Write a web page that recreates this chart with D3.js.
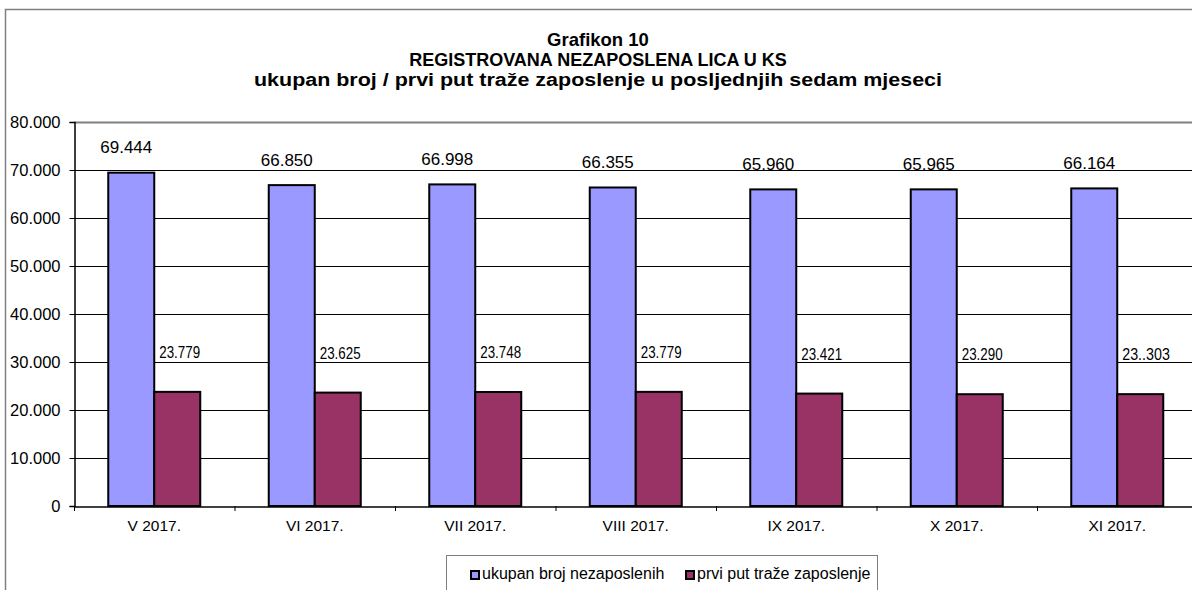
<!DOCTYPE html>
<html>
<head>
<meta charset="utf-8">
<script src="https://cdn.jsdelivr.net/npm/d3@7"></script>
<style>
  body { margin: 0; background: #fff; }
  svg { display: block; font-family: Arial, "Liberation Sans", sans-serif; }
</style>
</head>
<body>
<div id="chart"></div>
<script>
// data
const months = ["V 2017.", "VI 2017.", "VII 2017.", "VIII 2017.", "IX 2017.", "X 2017.", "XI 2017."];
const ukupno = [69444, 66850, 66998, 66355, 65960, 65965, 66164];
const prviPut = [23779, 23625, 23748, 23779, 23421, 23290, 23303];
const ukupnoLabels = ["69.444", "66.850", "66.998", "66.355", "65.960", "65.965", "66.164"];
const prviPutLabels = ["23.779", "23.625", "23.748", "23.779", "23.421", "23.290", "23..303"];
const yTicks = [0, 10000, 20000, 30000, 40000, 50000, 60000, 70000, 80000];
const seriesNames = ["ukupan broj nezaposlenih", "prvi put traže zaposlenje"];
const colors = ["#9999FF", "#993366"];
const titleLines = [
  "Grafikon 10",
  "REGISTROVANA NEZAPOSLENA LICA U KS",
  "ukupan broj / prvi put traže zaposlenje u posljednjih sedam mjeseci"
];

const W = 1192, H = 590;
const plot = { left: 74, top: 122, bottom: 506 };
const bandW = 160.5;
const barW = 46;

const svg = d3.select("#chart").append("svg")
  .attr("width", W)
  .attr("height", H);

// outer chart border (runs off the right/bottom edge)
svg.append("rect")
  .attr("x", 5.5).attr("y", 9.5)
  .attr("width", W + 20).attr("height", H + 20)
  .attr("fill", "#fff")
  .attr("stroke", "#808080")
  .attr("stroke-width", 1.5);

// title
svg.append("g").selectAll("text")
  .data(titleLines)
  .join("text")
  .attr("x", 598)
  .attr("y", (d, i) => 46 + i * 20)
  .attr("text-anchor", "middle")
  .attr("textLength", (d, i) => i === 2 ? 688 : null)
  .attr("lengthAdjust", "spacingAndGlyphs")
  .style("font-weight", "bold")
  .style("font-size", (d, i) => i === 0 ? "18.5px" : "18px")
  .text(d => d);

// scales
const x = d3.scaleBand()
  .domain(months)
  .range([plot.left, plot.left + bandW * months.length])
  .padding(0);
const y = d3.scaleLinear()
  .domain([0, 80000])
  .range([plot.bottom, plot.top]);

const fmtTick = v => v === 0 ? "0" : (v / 1000) + ".000";

// grid
svg.append("g")
  .selectAll("line")
  .data(yTicks.filter(d => d > 0))
  .join("line")
  .attr("x1", plot.left).attr("x2", W)
  .attr("y1", d => Math.round(y(d)) + 0.5)
  .attr("y2", d => Math.round(y(d)) + 0.5)
  .attr("stroke", d => d === 80000 ? "#808080" : "#000")
  .attr("stroke-width", d => d === 80000 ? 2 : 1);

// bars
const offs = (bandW - 2 * barW) / 2;
const groups = svg.append("g").selectAll("g")
  .data(months)
  .join("g")
  .attr("transform", d => `translate(${x(d)},0)`);

groups.append("rect")
  .attr("x", offs)
  .attr("y", (d, i) => y(ukupno[i]))
  .attr("width", barW)
  .attr("height", (d, i) => y(0) - y(ukupno[i]))
  .attr("fill", colors[0])
  .attr("stroke", "#000")
  .attr("stroke-width", 2);

groups.append("rect")
  .attr("x", offs + barW)
  .attr("y", (d, i) => y(prviPut[i]))
  .attr("width", barW)
  .attr("height", (d, i) => y(0) - y(prviPut[i]))
  .attr("fill", colors[1])
  .attr("stroke", "#000")
  .attr("stroke-width", 2);

// value labels
groups.append("text")
  .attr("x", offs + barW / 2 - 5)
  .attr("y", (d, i) => y(ukupno[i]) - 24)
  .attr("text-anchor", "middle")
  .attr("dominant-baseline", "middle")
  .style("font-size", "17px")
  .text((d, i) => ukupnoLabels[i]);

groups.append("text")
  .attr("x", offs + barW + 5)
  .attr("y", (d, i) => y(prviPut[i]) - 38)
  .attr("dominant-baseline", "middle")
  .attr("textLength", (d, i) => prviPutLabels[i].length * 6.8)
  .attr("lengthAdjust", "spacingAndGlyphs")
  .style("font-size", "16px")
  .text((d, i) => prviPutLabels[i]);

// y axis
const yAxis = svg.append("g")
  .attr("transform", `translate(${plot.left + 0.5},0)`)
  .call(d3.axisLeft(y).tickValues(yTicks).tickSize(5).tickPadding(9).tickFormat(fmtTick));
yAxis.select(".domain").attr("stroke", "#000").attr("stroke-width", 1.5);
yAxis.selectAll(".tick line").attr("stroke", "#000");
yAxis.selectAll(".tick text")
  .attr("fill", "#000")
  .style("font-size", "16.5px")
  .style("font-family", "Arial, 'Liberation Sans', sans-serif");

// x axis
const xAxis = svg.append("g")
  .attr("transform", `translate(0,${plot.bottom + 0.5})`)
  .call(d3.axisBottom(x).tickSize(0).tickPadding(13));
xAxis.select(".domain").attr("stroke", "#000").attr("stroke-width", 1.5);
xAxis.selectAll(".tick text")
  .attr("fill", "#000")
  .style("font-size", "15.5px")
  .style("font-family", "Arial, 'Liberation Sans', sans-serif");

// category separator ticks
svg.append("g").selectAll("line")
  .data(d3.range(months.length + 1))
  .join("line")
  .attr("x1", i => plot.left + i * bandW + 0.5)
  .attr("x2", i => plot.left + i * bandW + 0.5)
  .attr("y1", plot.bottom)
  .attr("y2", plot.bottom + 5)
  .attr("stroke", "#000");

// legend
const legend = svg.append("g");
legend.append("rect")
  .attr("x", 446.5).attr("y", 555.5)
  .attr("width", 431).attr("height", 60)
  .attr("fill", "#fff")
  .attr("stroke", "#808080");

const legendX = [470, 685];
const items = legend.selectAll("g.item")
  .data(seriesNames)
  .join("g")
  .attr("class", "item")
  .attr("transform", (d, i) => `translate(${legendX[i]},575)`);
items.append("rect")
  .attr("x", 1).attr("y", -4)
  .attr("width", 8).attr("height", 8)
  .attr("fill", (d, i) => colors[i])
  .attr("stroke", "#000")
  .attr("stroke-width", 2);
items.append("text")
  .attr("x", 12)
  .attr("y", 0)
  .attr("dominant-baseline", "middle")
  .style("font-size", "16px")
  .text(d => d);
</script>
</body>
</html>
